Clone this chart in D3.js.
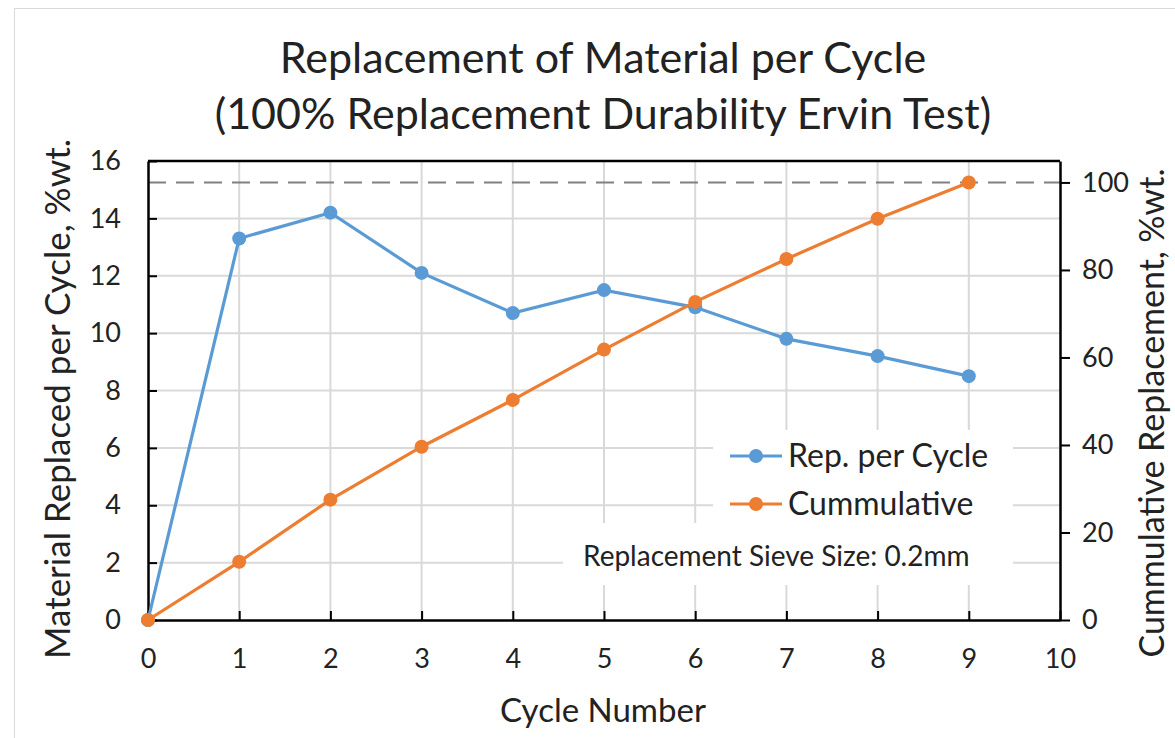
<!DOCTYPE html>
<html>
<head>
<meta charset="utf-8">
<script src="https://cdn.jsdelivr.net/npm/d3@7"></script>
<style>
  html, body { margin: 0; padding: 0; background: #fff; }
  svg text { font-family: Lato, "Open Sans", sans-serif; fill: #222; }
</style>
</head>
<body>
<div id="chart"></div>
<script>
// data
const cycles = [0, 1, 2, 3, 4, 5, 6, 7, 8, 9];
const repPerCycle = [0, 13.3, 14.2, 12.1, 10.7, 11.5, 10.9, 9.8, 9.2, 8.5];
const cumulative = [0, 13.3, 27.5, 39.6, 50.3, 61.8, 72.7, 82.5, 91.7, 100];
const leftTicks = [0, 2, 4, 6, 8, 10, 12, 14, 16];
const rightTicks = [0, 20, 40, 60, 80, 100];
const xTicks = [0, 1, 2, 3, 4, 5, 6, 7, 8, 9, 10];
const targetLine = 100;

const W = 1175, H = 738;
const margin = { top: 161, right: 115, bottom: 118, left: 148 };
const width = W - margin.left - margin.right;
const height = H - margin.top - margin.bottom;

const blue = '#5B9BD5';
const orange = '#ED7D31';

const svg = d3.select('#chart').append('svg')
  .attr('width', W)
  .attr('height', H);

// outer chart border
svg.append('rect')
  .attr('x', 14.5).attr('y', 8.5)
  .attr('width', W + 20).attr('height', H + 20)
  .attr('fill', 'none')
  .attr('stroke', '#d9d9d9');

// title
const title = svg.append('text')
  .attr('text-anchor', 'middle')
  .style('font-size', '43px');
title.append('tspan').attr('x', 603).attr('y', 73).text('Replacement of Material per Cycle');
title.append('tspan').attr('x', 603).attr('y', 129).text('(100% Replacement Durability Ervin Test)');

const g = svg.append('g')
  .attr('transform', `translate(${margin.left},${margin.top})`);

const x = d3.scaleLinear().domain([0, 10]).range([0, width]);
const yL = d3.scaleLinear().domain([0, 16]).range([height, 0]);
const yR = d3.scaleLinear().domain([0, 104.9]).range([height, 0]);

// gridlines
g.append('g')
  .selectAll('line.hgrid')
  .data(leftTicks.filter(d => d > 0 && d < 16))
  .enter().append('line')
  .attr('x1', 0).attr('x2', width)
  .attr('y1', d => yL(d)).attr('y2', d => yL(d))
  .attr('stroke', '#d9d9d9').attr('stroke-width', 2);

g.append('g')
  .selectAll('line.vgrid')
  .data(xTicks.filter(d => d > 0 && d < 10))
  .enter().append('line')
  .attr('x1', d => x(d)).attr('x2', d => x(d))
  .attr('y1', 0).attr('y2', height)
  .attr('stroke', '#d9d9d9').attr('stroke-width', 2);

// dashed 100% line
g.append('line')
  .attr('x1', 0).attr('x2', width)
  .attr('y1', yR(targetLine)).attr('y2', yR(targetLine))
  .attr('stroke', '#808080').attr('stroke-width', 2)
  .attr('stroke-dasharray', '18,10');

// white boxes behind legend and note
g.append('rect')
  .attr('x', 713 - margin.left).attr('y', 430 - margin.top)
  .attr('width', 300).attr('height', 95)
  .attr('fill', '#fff');
g.append('rect')
  .attr('x', 563 - margin.left).attr('y', 523 - margin.top)
  .attr('width', 450).attr('height', 62)
  .attr('fill', '#fff');

// axes
const tickFont = '27px';

const xAxis = g.append('g')
  .attr('transform', `translate(0,${height})`)
  .call(d3.axisBottom(x).tickValues(xTicks).tickSizeInner(-9).tickSizeOuter(0).tickPadding(29));

const leftAxis = g.append('g')
  .call(d3.axisLeft(yL).tickValues(leftTicks).tickSizeInner(-9).tickSizeOuter(0).tickPadding(27));

const rightAxis = g.append('g')
  .attr('transform', `translate(${width},0)`)
  .call(d3.axisRight(yR).tickValues(rightTicks).tickSizeInner(10).tickSizeOuter(0).tickPadding(12));

[xAxis, leftAxis, rightAxis].forEach(a => {
  a.selectAll('path').attr('stroke', '#000').attr('stroke-width', 2.5);
  a.selectAll('line').attr('stroke', '#000').attr('stroke-width', 2);
  a.selectAll('text').style('font-size', tickFont).style('font-family', 'Lato, sans-serif').attr('fill', '#222');
});
xAxis.selectAll('text').attr('dy', '0.71em');

// top border of plot area
g.append('line')
  .attr('x1', 0).attr('x2', width)
  .attr('y1', 0).attr('y2', 0)
  .attr('stroke', '#000').attr('stroke-width', 2.5);

// axis titles
svg.append('text')
  .attr('x', 603).attr('y', 722)
  .attr('text-anchor', 'middle')
  .style('font-size', '33px')
  .text('Cycle Number');

svg.append('text')
  .attr('transform', 'translate(70,399) rotate(-90)')
  .attr('text-anchor', 'middle')
  .style('font-size', '35px')
  .text('Material Replaced per Cycle, %wt.');

svg.append('text')
  .attr('transform', 'translate(1164,413) rotate(-90)')
  .attr('text-anchor', 'middle')
  .style('font-size', '34px')
  .text('Cummulative Replacement, %wt.');

// series
const lineL = d3.line().x((d, i) => x(cycles[i])).y(d => yL(d));
const lineR = d3.line().x((d, i) => x(cycles[i])).y(d => yR(d));

g.append('path')
  .datum(repPerCycle)
  .attr('d', lineL)
  .attr('fill', 'none')
  .attr('stroke', blue)
  .attr('stroke-width', 3.2);

g.selectAll('.dotBlue')
  .data(repPerCycle)
  .enter().append('circle')
  .attr('class', 'dotBlue')
  .attr('cx', (d, i) => x(cycles[i]))
  .attr('cy', d => yL(d))
  .attr('r', 7)
  .attr('fill', blue);

g.append('path')
  .datum(cumulative)
  .attr('d', lineR)
  .attr('fill', 'none')
  .attr('stroke', orange)
  .attr('stroke-width', 3.2);

g.selectAll('.dotOrange')
  .data(cumulative)
  .enter().append('circle')
  .attr('class', 'dotOrange')
  .attr('cx', (d, i) => x(cycles[i]))
  .attr('cy', d => yR(d))
  .attr('r', 7)
  .attr('fill', orange);

// legend
const legendItems = [
  { name: 'Rep. per Cycle', color: blue, y: 456 },
  { name: 'Cummulative', color: orange, y: 504 }
];
const legend = svg.append('g');
legendItems.forEach(item => {
  legend.append('line')
    .attr('x1', 730).attr('x2', 782)
    .attr('y1', item.y).attr('y2', item.y)
    .attr('stroke', item.color).attr('stroke-width', 3.2);
  legend.append('circle')
    .attr('cx', 756).attr('cy', item.y).attr('r', 7)
    .attr('fill', item.color);
  legend.append('text')
    .attr('x', 788).attr('y', item.y)
    .attr('dy', '0.35em')
    .style('font-size', '32px')
    .text(item.name);
});

svg.append('text')
  .attr('x', 583).attr('y', 556)
  .attr('dy', '0.35em')
  .style('font-size', '28px')
  .text('Replacement Sieve Size: 0.2mm');
</script>
</body>
</html>
